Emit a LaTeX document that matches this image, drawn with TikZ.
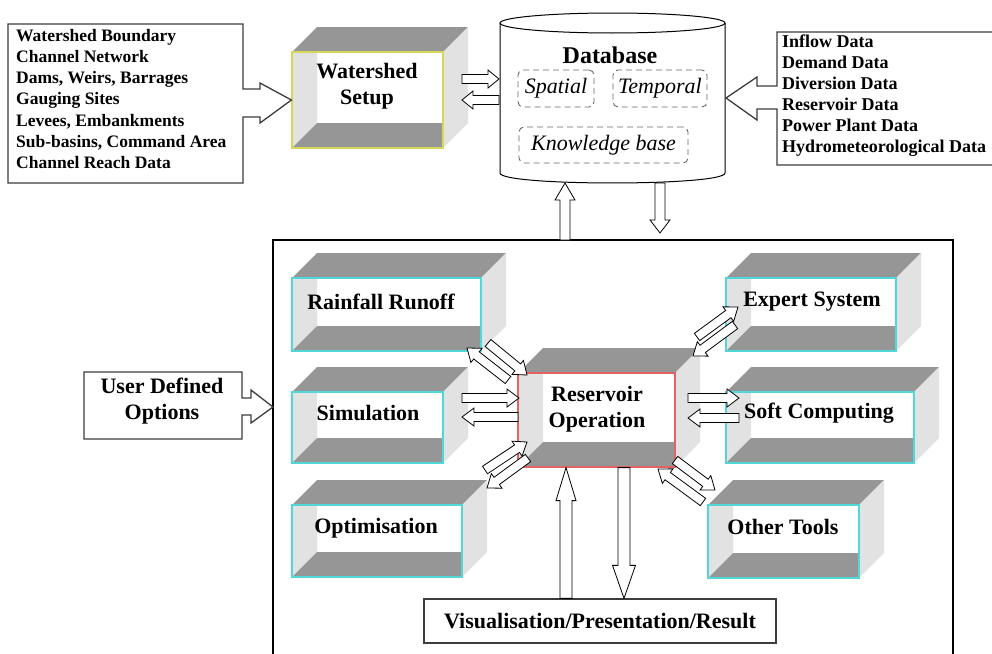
\documentclass[tikz,border=0pt]{standalone}
\usepackage{fontspec}
\setmainfont{Liberation Serif}
\usetikzlibrary{calc,positioning}
\definecolor{darkface}{RGB}{150,150,150}
\definecolor{lightface}{RGB}{226,226,226}
\definecolor{cyanedge}{RGB}{80,215,215}
\definecolor{yellowedge}{RGB}{215,215,90}
\definecolor{rededge}{RGB}{225,100,100}
\definecolor{boxline}{RGB}{60,60,60}

\newcommand{\toolbox}[6]{%
\fill[darkface] (#2,#3)--(#4,#3)--({#4+25},{#3-25})--({#2+25},{#3-25})--cycle;
\fill[lightface] (#4,#3)--({#4+25},{#3-25})--({#4+25},{#5-25})--(#4,#5)--cycle;
\fill[lightface] (#2,#3)--({#2+25},#3)--({#2+25},{#5-25})--(#2,#5)--cycle;
\fill[darkface] (#2,#5)--({#2+25},{#5-25})--(#4,{#5-25})--(#4,#5)--cycle;
\node[draw=#6,line width=1.2pt,inner sep=0pt,minimum width={#4-#2},minimum height={#5-#3}] (#1) at ({(#2+#4)/2},{(#3+#5)/2}) {};}

\newcommand{\hollowarrow}[5]{%
\coordinate (hb) at ($(#2)!#5pt!(#1)$);
\draw[hollow] ($(#1)!#3pt!90:(#2)$)--($(hb)!#3pt!90:(#2)$)--($(hb)!#4pt!90:(#2)$)--(#2)
--($(hb)!#4pt!-90:(#2)$)--($(hb)!#3pt!-90:(#2)$)--($(#1)!#3pt!-90:(#2)$)--cycle;}

\begin{document}
\begin{tikzpicture}
[x=1pt,y=-1pt,
hollow/.style = {draw=black, fill=white, line width=0.8pt, line join=miter},
callout/.style = {draw=boxline, fill=white, line width=1.3pt},
boxtext/.style = {font=\fontsize{22}{26}\selectfont\bfseries, align=center, inner sep=0pt},
listtext/.style = {font=\fontsize{17.5}{21.3}\selectfont\bfseries, align=left, inner sep=0pt},
store/.style = {draw=gray!80!black, dash pattern=on 6pt off 4pt, rounded corners=5pt, line width=0.9pt, font=\fontsize{22}{26}\selectfont\itshape, inner sep=0pt},]
\useasboundingbox (0,0) rectangle (992,653);

\draw[line width=2.2pt] (273,670)--(273,240)--(953,240)--(953,670);

\toolbox{watershed}{292}{52}{443}{148}{yellowedge}
\toolbox{rainfall}{292}{278}{481}{351}{cyanedge}
\toolbox{simulation}{292}{392}{443}{463}{cyanedge}
\toolbox{optimisation}{292}{505}{462}{577}{cyanedge}
\toolbox{reservoir}{518}{373}{675}{467}{rededge}
\toolbox{expert}{726}{278}{896}{351}{cyanedge}
\toolbox{soft}{726}{392}{914}{463}{cyanedge}
\toolbox{other}{708}{505}{859}{578}{cyanedge}

\node[boxtext] (watershed-t) at (367,86) {Watershed\\Setup};
\node[boxtext] (rainfall-t) at (381,302) {Rainfall Runoff};
\node[boxtext] (simulation-t) at (368,413) {Simulation};
\node[boxtext] (optimisation-t) at (376,528) {Optimisation};
\node[boxtext] (reservoir-t) at (597,409) {Reservoir\\Operation};
\node[boxtext] (expert-t) at (812,302) {Expert System};
\node[boxtext] (soft-t) at (819,413) {Soft Computing};
\node[boxtext] (other-t) at (783,527) {Other Tools};

\draw[callout] (8,24)--(243,24)--(243,89)--(260,89)--(260,83)--(watershed.west)--(260,123)--(260,117)--(243,117)--(243,183)--(8,183)--cycle;
\node[listtext,anchor=west] (geodata) at (16,99) {Watershed Boundary\\Channel Network\\Dams, Weirs, Barrages\\Gauging Sites\\Levees, Embankments\\Sub-basins, Command Area\\Channel Reach Data};

\draw[fill=white,line width=1pt] (500,23)--(500,173) .. controls (500,186.3) and (725,186.3) .. (725,173)--(725,23);
\draw[line width=1pt] (612.5,23) ellipse [x radius=112.5, y radius=10];
\node[font=\fontsize{24}{28}\selectfont\bfseries] (database) at (610,55) {Database};
\node[store,minimum width=76,minimum height=37] (spatial) at (556,88.5) {Spatial};
\node[store,minimum width=94,minimum height=37] (temporal) at (660,88.5) {Temporal};
\node[store,minimum width=169,minimum height=36] (knowledge) at (603.5,145) {Knowledge base};

\draw[callout] (995,32)--(777,32)--(777,86)--(757,86)--(757,77)--(726,98)--(757,120)--(757,109)--(777,109)--(777,165)--(995,165);
\node[listtext,anchor=west,font=\fontsize{18}{21}\selectfont\bfseries] (hydrodata) at (782,96) {Inflow Data\\Demand Data\\Diversion Data\\Reservoir Data\\Power Plant Data\\Hydrometeorological Data};

\draw[callout] (84,372)--(242,372)--(242,398)--(251,398)--(251,390)--(273,407)--(251,423)--(251,415)--(242,415)--(242,439)--(84,439)--cycle;
\node[boxtext] (options) at (162,401) {User Defined\\Options};

\node[draw=boxline,line width=1.3pt,fill=white,minimum width=352,minimum height=44,font=\fontsize{22}{26}\selectfont\bfseries] (result) at (600,621) {Visualisation/Presentation/Result};

\coordinate (ws-a) at (462,79); \coordinate (db-a) at (499,79);
\coordinate (db-b) at (499,100); \coordinate (ws-b) at (462,100);
\coordinate (fr-a) at (565,240); \coordinate (db-c) at (565,183);
\coordinate (db-d) at (660,183); \coordinate (fr-b) at (660,233);
\coordinate (rr-a) at (488,343); \coordinate (ro-a) at (527,375);
\coordinate (ro-b) at (508,380); \coordinate (rr-b) at (467,348);
\coordinate (si-a) at (462,398); \coordinate (ro-c) at (519,398);
\coordinate (ro-d) at (518,417); \coordinate (si-b) at (462,417);
\coordinate (op-a) at (485,470); \coordinate (ro-e) at (527,442);
\coordinate (ro-f) at (528,458); \coordinate (op-b) at (487,488);
\coordinate (ro-g) at (697,337); \coordinate (ex-a) at (738,307);
\coordinate (ex-b) at (735,325); \coordinate (ro-h) at (693,356);
\coordinate (ro-i) at (688,398); \coordinate (sc-a) at (739,398);
\coordinate (sc-b) at (739,418); \coordinate (ro-j) at (688,418);
\coordinate (ro-k) at (675,460); \coordinate (ot-a) at (715,490);
\coordinate (ot-b) at (703,502); \coordinate (ro-l) at (658,469);

\hollowarrow{ws-a}{db-a}{4.5}{9}{11}
\hollowarrow{db-b}{ws-b}{4.5}{9}{11}
\hollowarrow{fr-a}{db-c}{5}{10}{17}
\hollowarrow{db-d}{fr-b}{5}{10}{13}
\hollowarrow{rr-a}{ro-a}{4.5}{9}{12}
\hollowarrow{ro-b}{rr-b}{4.5}{9}{12}
\hollowarrow{si-a}{ro-c}{4.5}{9}{12}
\hollowarrow{ro-d}{si-b}{4.5}{9}{12}
\hollowarrow{op-a}{ro-e}{4.5}{9}{12}
\hollowarrow{ro-f}{op-b}{4.5}{9}{12}
\hollowarrow{ro-g}{ex-a}{4.5}{9}{12}
\hollowarrow{ex-b}{ro-h}{4.5}{9}{12}
\hollowarrow{ro-i}{sc-a}{4.5}{9}{12}
\hollowarrow{sc-b}{ro-j}{4.5}{9}{12}
\hollowarrow{ro-k}{ot-a}{4.5}{9}{12}
\hollowarrow{ot-b}{ro-l}{4.5}{9}{12}
\hollowarrow{result.north -| 566,0}{reservoir.south -| 566,0}{6}{10}{33}
\hollowarrow{reservoir.south -| 624,0}{result.north -| 624,0}{6}{11.5}{33}
\end{tikzpicture}
\end{document}
